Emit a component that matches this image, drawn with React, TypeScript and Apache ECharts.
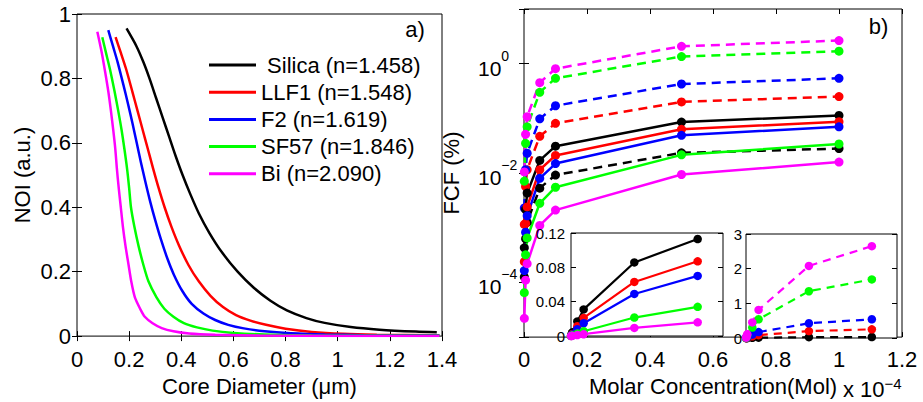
import React, { useEffect, useRef } from 'react';
import * as echarts from 'echarts';

const FONT = '"Liberation Sans", Arial, Helvetica, sans-serif';

// ---------- panel a) ----------
const materialNames = [' Silica (n=1.458)', 'LLF1 (n=1.548)', 'F2 (n=1.619)', 'SF57 (n=1.846)', 'Bi (n=2.090)'];
const materialColors = ['#000000', '#ff0000', '#0000ff', '#00ff00', '#ff00ff'];

const noiSilica = [[0.19, 0.955], [0.228, 0.9], [0.255, 0.85], [0.278, 0.8], [0.303, 0.74], [0.328, 0.68], [0.353, 0.62], [0.378, 0.56], [0.405, 0.5], [0.435, 0.44], [0.468, 0.38], [0.508, 0.32], [0.556, 0.26], [0.616, 0.2], [0.678, 0.15], [0.742, 0.11], [0.805, 0.08], [0.88, 0.056], [0.95, 0.041], [1.05, 0.028], [1.16, 0.02], [1.3, 0.014], [1.38, 0.012]];
const noiLLF1 = [[0.148, 0.928], [0.168, 0.88], [0.188, 0.83], [0.212, 0.76], [0.232, 0.7], [0.252, 0.64], [0.272, 0.58], [0.292, 0.52], [0.313, 0.46], [0.336, 0.4], [0.362, 0.34], [0.392, 0.28], [0.428, 0.22], [0.467, 0.17], [0.512, 0.125], [0.56, 0.09], [0.61, 0.065], [0.665, 0.048], [0.725, 0.035], [0.8, 0.023], [0.9, 0.013], [1.02, 0.007], [1.15, 0.0045], [1.39, 0.003]];
const noiF2 = [[0.12, 0.95], [0.138, 0.9], [0.156, 0.85], [0.178, 0.78], [0.196, 0.72], [0.213, 0.66], [0.229, 0.6], [0.245, 0.54], [0.262, 0.48], [0.28, 0.42], [0.3, 0.36], [0.322, 0.3], [0.347, 0.24], [0.372, 0.19], [0.404, 0.14], [0.44, 0.1], [0.485, 0.07], [0.53, 0.05], [0.58, 0.035], [0.64, 0.024], [0.72, 0.015], [0.82, 0.009], [0.95, 0.005], [1.1, 0.003], [1.39, 0.0015]];
const noiSF57 = [[0.097, 0.928], [0.111, 0.88], [0.126, 0.83], [0.144, 0.76], [0.158, 0.7], [0.171, 0.64], [0.182, 0.58], [0.192, 0.52], [0.2, 0.46], [0.207, 0.4], [0.22, 0.34], [0.236, 0.28], [0.255, 0.22], [0.274, 0.17], [0.305, 0.12], [0.335, 0.085], [0.37, 0.06], [0.41, 0.04], [0.46, 0.027], [0.52, 0.017], [0.6, 0.01], [0.72, 0.005], [0.9, 0.002], [1.39, 0.001]];
const noiBi = [[0.078, 0.945], [0.095, 0.88], [0.108, 0.82], [0.12, 0.76], [0.13, 0.7], [0.139, 0.64], [0.147, 0.58], [0.153, 0.52], [0.16, 0.46], [0.168, 0.4], [0.176, 0.34], [0.186, 0.28], [0.198, 0.22], [0.208, 0.17], [0.222, 0.12], [0.242, 0.085], [0.26, 0.06], [0.29, 0.04], [0.325, 0.025], [0.37, 0.015], [0.43, 0.008], [0.53, 0.004], [0.7, 0.0015], [1.0, 0.0005], [1.39, 0.0002]];
const noiSets = [noiSilica, noiLLF1, noiF2, noiSF57, noiBi];

// ---------- panel b) ----------  (x in units of 1e-4 Mol)
const concentration = [0.001, 0.005, 0.01, 0.05, 0.1, 0.5, 1];

const fcfSolidBlack = [4.3e-4, 2.15e-3, 4.3e-3, 0.017, 0.031, 0.0857, 0.113];
const fcfSolidRed = [2.4e-4, 1.2e-3, 2.4e-3, 0.0115, 0.021, 0.063, 0.087];
const fcfSolidBlue = [1.65e-4, 8.3e-4, 1.65e-3, 0.008, 0.0149, 0.049, 0.070];
const fcfSolidGreen = [6.5e-5, 3.2e-4, 6.5e-4, 0.0028, 0.0055, 0.0215, 0.034];
const fcfSolidMagenta = [2.2e-5, 1.1e-4, 2.2e-4, 1.1e-3, 0.0021, 0.0094, 0.0159];

const fcfDashedBlack = [1.26e-4, 6.3e-4, 1.26e-3, 0.0053, 0.0092, 0.0234, 0.028];
const fcfDashedRed = [0.00115, 0.0057, 0.0115, 0.047, 0.081, 0.20, 0.25];
const fcfDashedBlue = [0.0023, 0.0115, 0.023, 0.098, 0.17, 0.425, 0.54];
const fcfDashedGreen = [0.0071, 0.035, 0.070, 0.30, 0.54, 1.35, 1.69];
const fcfDashedMagenta = [0.0105, 0.051, 0.107, 0.45, 0.81, 2.08, 2.65];

const solidSets = [fcfSolidBlack, fcfSolidRed, fcfSolidBlue, fcfSolidGreen, fcfSolidMagenta];
const dashedSets = [fcfDashedBlack, fcfDashedRed, fcfDashedBlue, fcfDashedGreen, fcfDashedMagenta];

const pairs = (ys: number[]) => concentration.map((x, i) => [x, ys[i]]);

const tick = { show: true, inside: true, length: 5, lineStyle: { color: '#000', width: 1 } };
const noLine = { show: false };
const labelStyle = { color: '#000', fontFamily: FONT, fontSize: 22 };

export default function App() {
  const ref = useRef<HTMLDivElement>(null);
  useEffect(() => {
    if (!ref.current) return;
    const chart = echarts.init(ref.current, undefined, { renderer: 'svg' });

    const series: any[] = [];
    noiSets.forEach((d, i) => {
      series.push({
        type: 'line', name: materialNames[i], xAxisIndex: 0, yAxisIndex: 0, data: d,
        symbol: 'none', smooth: 0.25,
        lineStyle: { width: 2.5, color: materialColors[i] }, itemStyle: { color: materialColors[i] },
      });
    });
    dashedSets.forEach((d, i) => {
      series.push({
        type: 'line', xAxisIndex: 2, yAxisIndex: 2, data: pairs(d),
        symbol: 'circle', symbolSize: 9,
        lineStyle: { width: 2.5, color: materialColors[i], type: [9, 6] }, itemStyle: { color: materialColors[i] },
      });
    });
    solidSets.forEach((d, i) => {
      series.push({
        type: 'line', xAxisIndex: 2, yAxisIndex: 2, data: pairs(d),
        symbol: 'circle', symbolSize: 9,
        lineStyle: { width: 2.5, color: materialColors[i] }, itemStyle: { color: materialColors[i] },
      });
    });
    solidSets.forEach((d, i) => {
      series.push({
        type: 'line', xAxisIndex: 4, yAxisIndex: 4, data: pairs(d), z: 8,
        symbol: 'circle', symbolSize: 8.5,
        lineStyle: { width: 2.2, color: materialColors[i] }, itemStyle: { color: materialColors[i] },
      });
    });
    dashedSets.forEach((d, i) => {
      series.push({
        type: 'line', xAxisIndex: 5, yAxisIndex: 6, data: pairs(d), z: 8,
        symbol: 'circle', symbolSize: 8.5,
        lineStyle: { width: 2.2, color: materialColors[i], type: [8, 6] }, itemStyle: { color: materialColors[i] },
      });
    });

    const logFormatter = (v: number) => {
      const e = Math.round(Math.log10(v));
      if (e % 2 !== 0) return '';
      return `{b|10}{s|${e < 0 ? '\u2212' : ''}${Math.abs(e)}}`;
    };

    const option: any = {
      animation: false,
      backgroundColor: '#fff',
      textStyle: { fontFamily: FONT },
      grid: [
        { left: 77, top: 14, width: 365, height: 334, show: true, borderColor: '#000', borderWidth: 1, backgroundColor: 'transparent' },
        { left: 524, top: 9, width: 378, height: 334, show: true, borderColor: '#000', borderWidth: 1, backgroundColor: 'transparent' },
        { left: 571, top: 233, width: 152, height: 103, show: true, borderColor: '#000', borderWidth: 1, backgroundColor: '#fff', z: 6 },
        { left: 746, top: 234, width: 151, height: 104, show: true, borderColor: '#000', borderWidth: 1, backgroundColor: '#fff', z: 6 },
      ],
      xAxis: [
        {
          type: 'value', gridIndex: 0, min: 0, max: 1.4, interval: 0.2, axisLine: noLine, axisTick: tick, splitLine: noLine,
          axisLabel: { ...labelStyle, margin: 12 },
          name: 'Core Diameter (\u03bcm)', nameLocation: 'middle', nameGap: 31, nameTextStyle: { ...labelStyle },
        },
        { type: 'value', gridIndex: 0, position: 'top', min: 0, max: 1.4, interval: 0.2, axisLine: noLine, axisTick: tick, splitLine: noLine, axisLabel: { show: false } },
        {
          type: 'value', gridIndex: 1, min: 0, max: 1.2, interval: 0.2, axisLine: noLine, axisTick: tick, splitLine: noLine,
          axisLabel: { ...labelStyle, margin: 11 },
          name: 'Molar Concentration(Mol)', nameLocation: 'middle', nameGap: 27, nameTextStyle: { ...labelStyle },
        },
        { type: 'value', gridIndex: 1, position: 'top', min: 0, max: 1.2, interval: 0.2, axisLine: noLine, axisTick: tick, splitLine: noLine, axisLabel: { show: false } },
        { type: 'value', gridIndex: 2, min: 0, max: 1.2, interval: 0.2, axisLine: noLine, axisTick: { show: false }, splitLine: noLine, axisLabel: { show: false }, z: 7 },
        { type: 'value', gridIndex: 3, min: 0, max: 1.2, interval: 0.2, axisLine: noLine, axisTick: { show: false }, splitLine: noLine, axisLabel: { show: false }, z: 7 },
      ],
      yAxis: [
        {
          type: 'value', gridIndex: 0, min: 0, max: 1, interval: 0.2, axisLine: noLine, axisTick: tick, splitLine: noLine,
          axisLabel: { ...labelStyle, margin: 6 },
          name: 'NOI (a.u.)', nameLocation: 'middle', nameGap: 44, nameTextStyle: { ...labelStyle },
        },
        { type: 'value', gridIndex: 0, position: 'right', min: 0, max: 1, interval: 0.2, axisLine: noLine, axisTick: tick, splitLine: noLine, axisLabel: { show: false } },
        {
          type: 'log', logBase: 100, gridIndex: 1, min: 1e-5, max: 10, axisLine: noLine, axisTick: tick, splitLine: noLine, minorTick: { show: false },
          axisLabel: {
            color: '#000', fontFamily: FONT, align: 'left', margin: 46, formatter: logFormatter,
            rich: {
              b: { fontSize: 21, fontFamily: FONT, color: '#000', lineHeight: 30, verticalAlign: 'bottom' },
              s: { fontSize: 14, fontFamily: FONT, color: '#000', lineHeight: 14, verticalAlign: 'top' },
            },
          },
          name: 'FCF (%)', nameLocation: 'middle', nameGap: 62, nameTextStyle: { ...labelStyle },
        },
        { type: 'log', logBase: 100, gridIndex: 1, position: 'right', min: 1e-5, max: 10, axisLine: noLine, axisTick: tick, splitLine: noLine, axisLabel: { show: false } },
        {
          type: 'value', gridIndex: 2, min: 0, max: 0.12, interval: 0.04, axisLine: noLine, axisTick: tick, splitLine: noLine, z: 7,
          axisLabel: { color: '#000', fontFamily: FONT, fontSize: 15, margin: 6 },
        },
        { type: 'value', gridIndex: 2, position: 'right', min: 0, max: 0.12, interval: 0.04, axisLine: noLine, axisTick: tick, splitLine: noLine, axisLabel: { show: false }, z: 7 },
        {
          type: 'value', gridIndex: 3, min: 0, max: 3, interval: 1, axisLine: noLine, axisTick: tick, splitLine: noLine, z: 7,
          axisLabel: { color: '#000', fontFamily: FONT, fontSize: 15, margin: 4 },
        },
        { type: 'value', gridIndex: 3, position: 'right', min: 0, max: 3, interval: 1, axisLine: noLine, axisTick: tick, splitLine: noLine, axisLabel: { show: false }, z: 7 },
      ],
      legend: {
        data: materialNames, left: 209, top: 53, orient: 'vertical', icon: 'rect', itemWidth: 47, itemHeight: 3, itemGap: 3.2, padding: 0,
        selectedMode: false, textStyle: { fontSize: 22, fontFamily: FONT, color: '#000', lineHeight: 24 },
      },
      graphic: [
        { type: 'text', x: 415, y: 29.5, style: { text: 'a)', fontSize: 22, fontFamily: FONT, fill: '#000', align: 'center', verticalAlign: 'middle' } },
        { type: 'text', x: 878.5, y: 26, style: { text: 'b)', fontSize: 22, fontFamily: FONT, fill: '#000', align: 'center', verticalAlign: 'middle' } },
        {
          type: 'text', x: 843, y: 388,
          style: {
            text: '{b|x 10}{s|\u22124}', align: 'left', verticalAlign: 'middle', fill: '#000',
            rich: {
              b: { fontSize: 22, fontFamily: FONT, fill: '#000', lineHeight: 24, verticalAlign: 'bottom' },
              s: { fontSize: 15, fontFamily: FONT, fill: '#000', lineHeight: 10, verticalAlign: 'top' },
            },
          },
        },
      ],
      series,
    };
    chart.setOption(option);
    return () => chart.dispose();
  }, []);
  return <div ref={ref} style={{ position: 'fixed', left: 0, top: 0, width: 923, height: 402 }} />;
}
